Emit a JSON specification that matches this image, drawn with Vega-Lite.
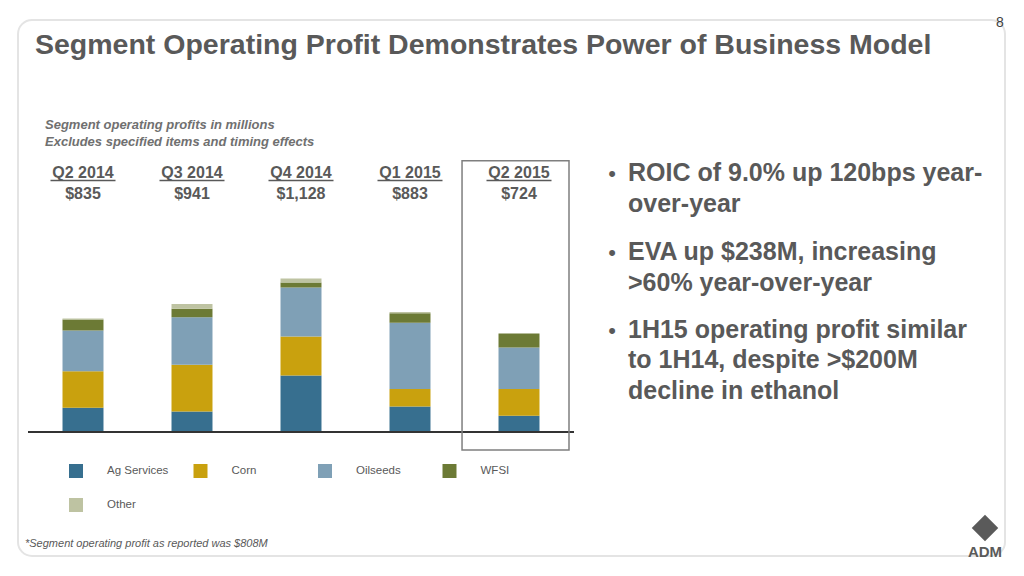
{
  "$schema": "https://vega.github.io/schema/vega-lite/v6.json",
  "autosize": {"type": "none"},
  "width": 545,
  "height": 299.2,
  "padding": {"left": 28.5, "top": 160, "right": 450.5, "bottom": 116.8},
  "background": "white",
  "config": {
    "view": {"stroke": null},
    "font": "Liberation Sans",
    "legend": {
      "orient": "none",
      "legendX": 40.5,
      "legendY": 304,
      "direction": "horizontal",
      "columns": 4,
      "gridAlign": "all",
      "columnPadding": 24.5,
      "rowPadding": 20,
      "symbolType": "square",
      "symbolSize": 196,
      "symbolStrokeWidth": 0,
      "symbolOpacity": 1,
      "labelOffset": 24,
      "labelFontSize": 11.5,
      "labelColor": "#595959",
      "labelFont": "Liberation Sans",
      "padding": 0
    }
  },
  "data": {
    "values": [
      {"quarter": "Q2 2014", "segment": "Ag Services", "value": 179},
      {"quarter": "Q2 2014", "segment": "Corn", "value": 267},
      {"quarter": "Q2 2014", "segment": "Oilseeds", "value": 301},
      {"quarter": "Q2 2014", "segment": "WFSI", "value": 81},
      {"quarter": "Q2 2014", "segment": "Other", "value": 7},
      {"quarter": "Q3 2014", "segment": "Ag Services", "value": 150},
      {"quarter": "Q3 2014", "segment": "Corn", "value": 344},
      {"quarter": "Q3 2014", "segment": "Oilseeds", "value": 350},
      {"quarter": "Q3 2014", "segment": "WFSI", "value": 63},
      {"quarter": "Q3 2014", "segment": "Other", "value": 34},
      {"quarter": "Q4 2014", "segment": "Ag Services", "value": 415},
      {"quarter": "Q4 2014", "segment": "Corn", "value": 287},
      {"quarter": "Q4 2014", "segment": "Oilseeds", "value": 360},
      {"quarter": "Q4 2014", "segment": "WFSI", "value": 37},
      {"quarter": "Q4 2014", "segment": "Other", "value": 29},
      {"quarter": "Q1 2015", "segment": "Ag Services", "value": 187},
      {"quarter": "Q1 2015", "segment": "Corn", "value": 130},
      {"quarter": "Q1 2015", "segment": "Oilseeds", "value": 487},
      {"quarter": "Q1 2015", "segment": "WFSI", "value": 69},
      {"quarter": "Q1 2015", "segment": "Other", "value": 10},
      {"quarter": "Q2 2015", "segment": "Ag Services", "value": 120},
      {"quarter": "Q2 2015", "segment": "Corn", "value": 196},
      {"quarter": "Q2 2015", "segment": "Oilseeds", "value": 306},
      {"quarter": "Q2 2015", "segment": "WFSI", "value": 102},
      {"quarter": "Q2 2015", "segment": "Other", "value": 0}
    ]
  },
  "layer": [
    {
      "data": {"values": [{}]},
      "mark": {"type": "rect", "fill": null, "stroke": "#e4e4e4", "strokeWidth": 2, "cornerRadius": 14},
      "encoding": {
        "x": {"value": -10.5},
        "x2": {"value": 976.5},
        "y": {"value": -140},
        "y2": {"value": 396}
      }
    },
    {
      "transform": [
        {"calculate": "indexof(['Ag Services', 'Corn', 'Oilseeds', 'WFSI', 'Other'], datum.segment)", "as": "stackOrder"}
      ],
      "mark": {"type": "bar"},
      "encoding": {
        "x": {
          "field": "quarter",
          "type": "nominal",
          "scale": {"domain": ["Q2 2014", "Q3 2014", "Q4 2014", "Q1 2015", "Q2 2015"], "paddingInner": 0.624, "paddingOuter": 0.312},
          "axis": null
        },
        "y": {
          "field": "value",
          "type": "quantitative",
          "stack": "zero",
          "scale": {"domain": [-200, 2000], "nice": false, "zero": false},
          "axis": null
        },
        "color": {
          "field": "segment",
          "type": "nominal",
          "scale": {
            "domain": ["Ag Services", "Corn", "Oilseeds", "WFSI", "Other"],
            "range": ["#376f8f", "#c9a10e", "#7fa0b6", "#6c7a35", "#bec3a2"]
          },
          "legend": {"title": null}
        },
        "order": {"field": "stackOrder", "type": "quantitative", "sort": "ascending"}
      }
    },
    {
      "transform": [
        {"aggregate": [{"op": "sum", "field": "value", "as": "total"}], "groupby": ["quarter"]}
      ],
      "layer": [
        {
          "mark": {"type": "text", "font": "Liberation Sans", "fontWeight": "bold", "fontSize": 16, "color": "#595959", "baseline": "middle"},
          "encoding": {
            "x": {"field": "quarter", "type": "nominal"},
            "y": {"datum": 1904},
            "text": {"field": "quarter"}
          }
        },
        {
          "mark": {"type": "tick", "orient": "horizontal", "size": 65, "thickness": 1.5, "color": "#595959", "opacity": 1},
          "encoding": {
            "x": {"field": "quarter", "type": "nominal"},
            "y": {"datum": 1849}
          }
        },
        {
          "mark": {"type": "text", "font": "Liberation Sans", "fontWeight": "bold", "fontSize": 16, "color": "#595959", "baseline": "middle"},
          "encoding": {
            "x": {"field": "quarter", "type": "nominal"},
            "y": {"datum": 1750},
            "text": {"field": "total", "type": "quantitative", "format": "$,.0f"}
          }
        }
      ]
    },
    {
      "mark": {"type": "rule", "color": "#333333", "strokeWidth": 2},
      "encoding": {"y": {"datum": 0}}
    },
    {
      "data": {"values": [{}]},
      "mark": {"type": "rect", "fill": null, "stroke": "#7f7f7f", "strokeWidth": 1.5},
      "encoding": {
        "x": {"datum": "Q2 2015", "bandPosition": -0.89},
        "x2": {"datum": "Q2 2015", "bandPosition": 1.72},
        "y": {"datum": 1995},
        "y2": {"datum": -132}
      }
    },
    {
      "data": {"values": [{}]},
      "mark": {"type": "text", "text": "Segment Operating Profit Demonstrates Power of Business Model", "font": "Liberation Sans", "fontWeight": "bold", "fontSize": 28.5, "color": "#595959", "align": "left", "baseline": "alphabetic"},
      "encoding": {"x": {"value": 6.5}, "y": {"value": -106.5}}
    },
    {
      "data": {"values": [{}]},
      "mark": {"type": "text", "text": "8", "fontSize": 14, "color": "#404040", "align": "center", "baseline": "middle"},
      "encoding": {"x": {"value": 971.5}, "y": {"value": -137}}
    },
    {
      "data": {"values": [{}]},
      "mark": {"type": "text", "text": ["Segment operating profits in millions", "Excludes specified items and timing effects"], "fontSize": 13, "fontWeight": "bold", "fontStyle": "italic", "color": "#707070", "align": "left", "baseline": "alphabetic", "lineHeight": 17},
      "encoding": {"x": {"value": 16.5}, "y": {"value": -31.5}}
    },
    {
      "data": {"values": [{}]},
      "mark": {"type": "text", "text": ["ROIC of 9.0% up 120bps year-", "over-year"], "fontSize": 25, "fontWeight": "bold", "color": "#595959", "align": "left", "baseline": "alphabetic", "lineHeight": 31},
      "encoding": {"x": {"value": 599.5}, "y": {"value": 21}}
    },
    {
      "data": {"values": [{}]},
      "mark": {"type": "text", "text": ["EVA up $238M, increasing", ">60% year-over-year"], "fontSize": 25, "fontWeight": "bold", "color": "#595959", "align": "left", "baseline": "alphabetic", "lineHeight": 31},
      "encoding": {"x": {"value": 599.5}, "y": {"value": 99.5}}
    },
    {
      "data": {"values": [{}]},
      "mark": {"type": "text", "text": ["1H15 operating profit similar", "to 1H14, despite >$200M", "decline in ethanol"], "fontSize": 25, "fontWeight": "bold", "color": "#595959", "align": "left", "baseline": "alphabetic", "lineHeight": 30.7},
      "encoding": {"x": {"value": 599.5}, "y": {"value": 177.5}}
    },
    {
      "data": {"values": [{"y": 21}, {"y": 99.5}, {"y": 177.5}]},
      "mark": {"type": "text", "text": "•", "fontSize": 22, "color": "#595959", "align": "center", "baseline": "alphabetic", "x": 583.5},
      "encoding": {"y": {"field": "y", "type": "quantitative", "scale": null}}
    },
    {
      "data": {"values": [{}]},
      "mark": {"type": "text", "text": "*Segment operating profit as reported was $808M", "fontSize": 11, "fontStyle": "italic", "color": "#595959", "align": "left", "baseline": "middle"},
      "encoding": {"x": {"value": -3.5}, "y": {"value": 384}}
    },
    {
      "data": {"values": [{}]},
      "mark": {"type": "point", "shape": "diamond", "size": 700, "filled": true, "color": "#5a5a5a", "opacity": 1},
      "encoding": {"x": {"value": 956.5}, "y": {"value": 368}}
    },
    {
      "data": {"values": [{}]},
      "mark": {"type": "text", "text": "ADM", "fontSize": 15, "fontWeight": "bold", "color": "#5a5a5a", "align": "center", "baseline": "middle"},
      "encoding": {"x": {"value": 956.5}, "y": {"value": 392}}
    }
  ]
}
